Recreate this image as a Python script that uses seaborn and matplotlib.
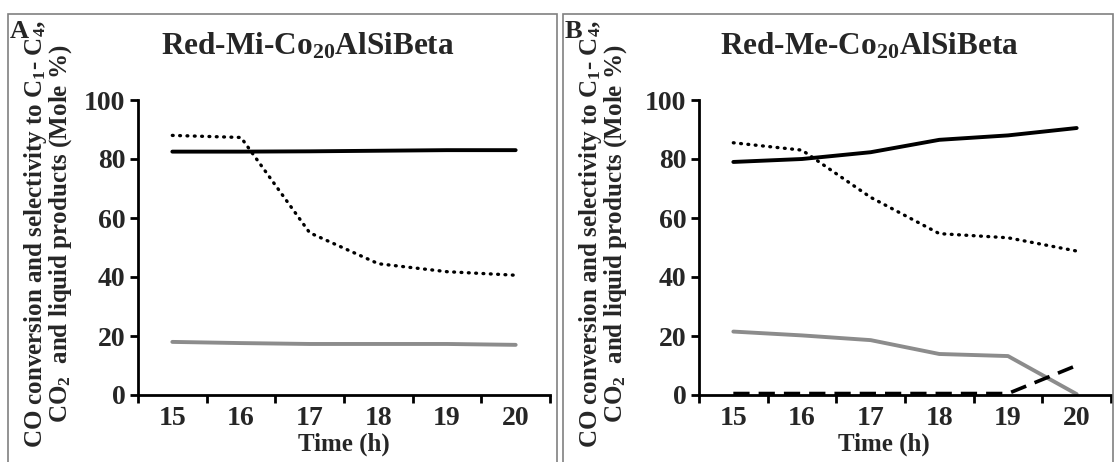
import matplotlib
matplotlib.use("Agg")
import matplotlib.pyplot as plt
import seaborn as sns
import pandas as pd
from matplotlib.patches import Rectangle
from matplotlib.ticker import FixedLocator, NullFormatter

# ---------------- data ----------------
time_h = [15, 16, 17, 18, 19, 20]

# Panel A: Red-Mi-Co20AlSiBeta
a_solid = [82.5, 82.5, 82.6, 82.8, 83.0, 83.0]
a_dotted = [88.0, 87.3, 55.0, 44.5, 41.8, 40.6]
a_grey = [18.0, 17.6, 17.3, 17.3, 17.3, 17.0]

# Panel B: Red-Me-Co20AlSiBeta
b_solid = [79.0, 80.0, 82.3, 86.5, 88.0, 90.5]
b_dotted = [85.5, 83.0, 67.0, 54.7, 53.3, 48.8]
b_grey = [21.5, 20.2, 18.6, 13.9, 13.2, 0.3]
b_dashed = [0.5, 0.5, 0.5, 0.5, 0.5, 10.0]

titles = ["Red-Mi-Co$_{20}$AlSiBeta", "Red-Me-Co$_{20}$AlSiBeta"]
panel_letters = ["A", "B"]
y_ticks = [0, 20, 40, 60, 80, 100]
x_label = "Time (h)"
y_label = "CO conversion and selectivity to C$_1$- C$_4$,\nCO$_2$  and liquid products (Mole %)"

# ---------------- style ----------------
sns.set_theme(style="white")
plt.rcParams["font.family"] = ["Liberation Serif", "DejaVu Serif"]
plt.rcParams["font.weight"] = "bold"
plt.rcParams["mathtext.default"] = "regular"

W, H = 1116, 462
fig = plt.figure(figsize=(W / 100, H / 100), dpi=100)

def fx(px):
    return px / W

def fy(py):
    return 1 - py / H

# panel frames
for x0, x1 in [(8, 557), (563, 1113)]:
    fig.patches.append(Rectangle((fx(x0), fy(470)), fx(x1 - x0), fy(14) - fy(470),
                                 transform=fig.transFigure, fill=False,
                                 edgecolor="#808080", linewidth=1.2))

axes_px = [(138, 550), (699, 1111)]
xlabel_off = [0, -21]
series_sets = [
    [(a_solid, "black", "-"), (a_dotted, "black", ":"), (a_grey, "#8c8c8c", "-")],
    [(b_solid, "black", "-"), (b_dotted, "black", ":"), (b_grey, "#8c8c8c", "-"),
     (b_dashed, "black", "--")],
]

for i, ((xl, xr), series) in enumerate(zip(axes_px, series_sets)):
    ax = fig.add_axes([fx(xl), fy(395), fx(xr - xl), fy(100) - fy(395)])
    for vals, col, ls in series:
        df = pd.DataFrame({"t": time_h, "v": vals})
        if ls == ":":
            sns.lineplot(data=df, x="t", y="v", ax=ax, color=col, linewidth=2.4,
                         linestyle=(0, (0.25, 1.95)), dash_capstyle="round")
        elif ls == "--":
            sns.lineplot(data=df, x="t", y="v", ax=ax, color=col, linewidth=2.6,
                         linestyle=(0, (4.5, 2.5)))
        else:
            sns.lineplot(data=df, x="t", y="v", ax=ax, color=col, linewidth=2.8)
    ax.set_xlim(14.5, 20.5)
    ax.set_ylim(0, 100)
    ax.set_xticks(time_h)
    ax.set_xticklabels([str(t) for t in time_h])
    ax.xaxis.set_minor_locator(FixedLocator([14.5 + k for k in range(7)]))
    ax.xaxis.set_minor_formatter(NullFormatter())
    ax.tick_params(axis="x", which="major", length=0, pad=8, labelsize=20)
    ax.tick_params(axis="x", which="minor", length=6, width=2, direction="out",
                   bottom=True, color="black")
    ax.set_yticks(y_ticks)
    ax.tick_params(axis="y", which="major", length=6, width=2, direction="out",
                   left=True, color="black", labelsize=20, pad=3)
    for lab in ax.get_xticklabels() + ax.get_yticklabels():
        lab.set_fontweight("bold")
    for s in ["top", "right"]:
        ax.spines[s].set_visible(False)
    for s in ["left", "bottom"]:
        ax.spines[s].set_color("black")
        ax.spines[s].set_linewidth(2)
    ax.set_xlabel("")
    ax.set_ylabel("")
    ax.set_facecolor("none")
    ax.grid(False)

    cx = (xl + xr) / 2
    fig.text(fx(cx + xlabel_off[i]), fy(444), x_label, ha="center", va="center",
             fontsize=18, fontweight="bold")
    fig.text(fx(cx - 36), fy(46), titles[i], ha="center", va="center",
             fontsize=22.5, fontweight="bold")
    off = 0 if i == 0 else 563 - 8
    fig.text(fx(10 + off), fy(31), panel_letters[i], ha="left", va="center",
             fontsize=19, fontweight="bold")
    fig.text(fx(48 + off), fy(234), y_label, ha="center", va="center",
             rotation=90, fontsize=18, fontweight="bold", multialignment="center",
             linespacing=0.95)

fig.savefig("out.png", dpi=100)
